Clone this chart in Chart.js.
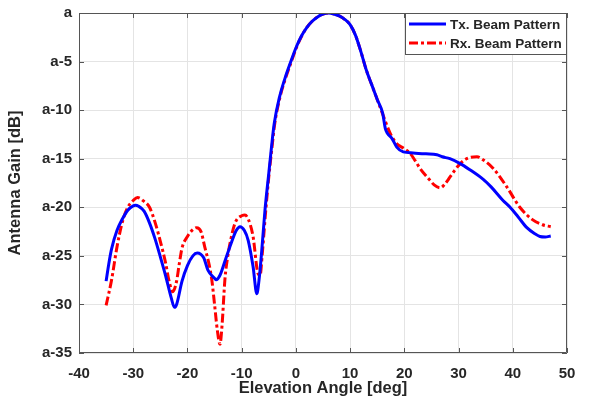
<!DOCTYPE html>
<html>
<head>
<meta charset="utf-8">
<script src="https://cdn.jsdelivr.net/npm/chart.js@4/dist/chart.umd.min.js"></script>
<style>
  html, body { margin: 0; padding: 0; background: #fff; }
  #wrap { width: 590px; height: 403px; position: relative; }
</style>
</head>
<body>
<div id="wrap"><canvas id="c" width="590" height="403"></canvas></div>
<script>
// ---- Data ----
const txAngle = [-35,-34.5,-34,-33,-32,-31,-30,-29.6,-29,-28,-27,-26,-25,-24,-23,-22.4,-22,-21,-20,-19,-18.2,-17,-16.2,-15,-14.7,-14,-13,-12,-11,-10.3,-9.5,-8.8,-7.9,-7.2,-6.8,-6.3,-5.7,-5,-4.5,-4,-3,-2,-1,0,1,2,3,4,5,6,7,8,9,10,11,12,13,14,15,16,16.5,16.9,17.7,18.6,19.8,21.6,24,26,27,28.4,30.3,32,34.5,36,38.2,39.5,41,42.6,44,45,46,47];
const txGain  = [-27.6,-25.8,-24.3,-22.4,-21.2,-20.3,-19.85,-19.8,-19.9,-20.4,-21.6,-23.2,-25.1,-27.1,-29.3,-30.3,-30.0,-27.6,-26.0,-25.0,-24.7,-25.2,-26.5,-27.3,-27.45,-27.0,-25.4,-23.8,-22.4,-22.0,-22.4,-23.4,-26.1,-28.9,-27.5,-24.5,-20.3,-16.5,-13.8,-11.4,-8.6,-6.7,-5.1,-3.6,-2.4,-1.5,-0.85,-0.4,-0.1,0,-0.1,-0.3,-0.65,-1.2,-2.3,-4.0,-5.9,-7.4,-8.9,-10.3,-11.9,-12.4,-12.9,-13.8,-14.3,-14.4,-14.5,-14.6,-14.8,-15.0,-15.5,-16.1,-17.1,-17.9,-19.3,-20.0,-21.0,-22.1,-22.7,-23.0,-23.05,-22.95];

const rxAngle = [-35,-34,-33,-32,-31,-30,-29.2,-28,-27,-26,-25,-24,-23.5,-23,-22.7,-22,-21.5,-21,-20,-19,-18.3,-17.5,-16.8,-16,-15.5,-15,-14.5,-14,-13.6,-13.1,-12.5,-12,-11.2,-9.9,-9.4,-8.8,-7.9,-7,-6.6,-6.2,-5.6,-5,-4.4,-3.9,-2.9,-1.9,-0.9,0,1,2,3,4,5,6,7,8,9,10,11,12,13,14,15,16,17.4,18.5,19.8,21,22,22.9,24.7,25.5,26.6,27.5,28.4,29.3,30.3,31.5,33.4,34.5,36.4,38.9,41.3,43.7,45.5,47];
const rxGain  = [-30.1,-27.5,-24.1,-21.5,-20.0,-19.3,-19.0,-19.4,-20.0,-21.5,-23.5,-25.8,-27.3,-28.4,-28.7,-27.6,-25.8,-24.2,-23.0,-22.3,-22.1,-22.5,-24.1,-25.9,-27.5,-30.0,-32.6,-34.1,-32.0,-27.5,-24.8,-23.3,-21.6,-20.85,-20.8,-21.2,-23.0,-26.8,-27.0,-24.8,-20.6,-16.9,-13.8,-11.4,-8.6,-6.7,-5.1,-3.7,-2.45,-1.5,-0.85,-0.4,-0.1,0,-0.1,-0.3,-0.65,-1.2,-2.3,-4.0,-5.9,-7.4,-8.9,-10.4,-12.4,-13.4,-13.9,-14.4,-15.2,-16.0,-17.2,-17.7,-18.0,-17.6,-16.9,-16.2,-15.5,-15.0,-14.8,-15.1,-16.0,-17.9,-20.0,-21.3,-21.8,-22.0];

const seriesNames = ['Tx. Beam Pattern', 'Rx. Beam Pattern'];
const xTickValues = [-40,-30,-20,-10,0,10,20,30,40,50];
const yTickValues = [-35,-30,-25,-20,-15,-10,-5,0];
const yTickLabels = ['a-35','a-30','a-25','a-20','a-15','a-10','a-5','a'];

const FONT = '"Liberation Sans", Arial, Helvetica, sans-serif';
const TEXT = '#262626';
const FRAME = '#555555';

const toPts = (xs, ys) => xs.map((x, i) => ({x: x, y: ys[i]}));

const framePlugin = {
  id: 'frame',
  afterDatasetsDraw(chart) {
    const {ctx, chartArea: a, scales} = chart;
    ctx.save();
    ctx.strokeStyle = FRAME;
    ctx.lineWidth = 1;
    ctx.beginPath();
    ctx.rect(a.left + 0.5, a.top + 0.5, a.right - a.left - 1, a.bottom - a.top - 1);
    ctx.stroke();
    const tl = 5;
    ctx.beginPath();
    xTickValues.forEach(v => {
      const px = Math.round(scales.x.getPixelForValue(v)) + 0.5;
      ctx.moveTo(px, a.bottom); ctx.lineTo(px, a.bottom - tl);
      ctx.moveTo(px, a.top); ctx.lineTo(px, a.top + tl);
    });
    yTickValues.forEach(v => {
      const py = Math.round(scales.y.getPixelForValue(v)) + 0.5;
      ctx.moveTo(a.left, py); ctx.lineTo(a.left + tl, py);
      ctx.moveTo(a.right, py); ctx.lineTo(a.right - tl, py);
    });
    ctx.stroke();
    ctx.restore();
  },
  afterDraw(chart) {
    // legend box, top-right inside the plot
    const {ctx, chartArea: a} = chart;
    const w = 162, h = 42;
    const x0 = a.right - w, y0 = a.top;
    ctx.save();
    ctx.fillStyle = '#fff';
    ctx.fillRect(x0, y0, w, h);
    ctx.strokeStyle = FRAME;
    ctx.lineWidth = 1;
    ctx.strokeRect(x0 + 0.5, y0 + 0.5, w - 1, h - 1);
    chart.data.datasets.forEach((ds, i) => {
      const y = y0 + 11 + i * 19;
      ctx.strokeStyle = ds.borderColor;
      ctx.lineWidth = ds.borderWidth;
      ctx.setLineDash(ds.borderDash || []);
      ctx.beginPath();
      ctx.moveTo(x0 + 4, y); ctx.lineTo(x0 + 41, y);
      ctx.stroke();
      ctx.setLineDash([]);
      ctx.fillStyle = TEXT;
      ctx.font = 'bold 13.5px ' + FONT;
      ctx.textBaseline = 'middle';
      ctx.textAlign = 'left';
      ctx.fillText(ds.label, x0 + 45, y + 1);
    });
    ctx.restore();
  }
};

new Chart(document.getElementById('c'), {
  type: 'line',
  data: {
    datasets: [
      {
        label: seriesNames[0],
        data: toPts(txAngle, txGain),
        borderColor: '#0000ff',
        borderWidth: 3,
        pointRadius: 0,
        fill: false,
        cubicInterpolationMode: 'monotone'
      },
      {
        label: seriesNames[1],
        data: toPts(rxAngle, rxGain),
        borderColor: '#ff0000',
        borderWidth: 3,
        borderDash: [9, 3, 3, 3],
        pointRadius: 0,
        fill: false,
        cubicInterpolationMode: 'monotone'
      }
    ]
  },
  options: {
    responsive: false,
    animation: false,
    layout: { padding: { top: 13, right: 23, left: 0, bottom: 0 } },
    plugins: { legend: { display: false }, tooltip: { enabled: false } },
    scales: {
      x: {
        type: 'linear',
        min: -40, max: 50,
        afterBuildTicks(s) { s.ticks = xTickValues.map(v => ({value: v})); },
        afterFit(s) { s.height = 50; },
        ticks: {
          autoSkip: false,
          padding: 12,
          color: TEXT,
          font: { family: FONT, size: 15, weight: 'bold' },
          callback: v => String(v)
        },
        grid: { color: '#e4e4e4', lineWidth: 1, drawTicks: false },
        border: { display: false },
        title: {
          display: true,
          text: 'Elevation Angle [deg]',
          color: TEXT,
          font: { family: FONT, size: 16.5, weight: 'bold' },
          padding: { top: 0, bottom: 5 }
        }
      },
      y: {
        type: 'linear',
        min: -35, max: 0,
        afterBuildTicks(s) { s.ticks = yTickValues.map(v => ({value: v})); },
        afterFit(s) { s.width = 79; },
        ticks: {
          autoSkip: false,
          padding: 7,
          color: TEXT,
          font: { family: FONT, size: 15, weight: 'bold', lineHeight: 0.8 },
          callback: v => yTickLabels[yTickValues.indexOf(v)]
        },
        grid: { color: '#e4e4e4', lineWidth: 1, drawTicks: false },
        border: { display: false },
        title: {
          display: true,
          text: 'Antenna Gain [dB]',
          color: TEXT,
          font: { family: FONT, size: 16.5, weight: 'bold' },
          padding: { top: 6, bottom: 0 }
        }
      }
    }
  },
  plugins: [framePlugin]
});
</script>
</body>
</html>
